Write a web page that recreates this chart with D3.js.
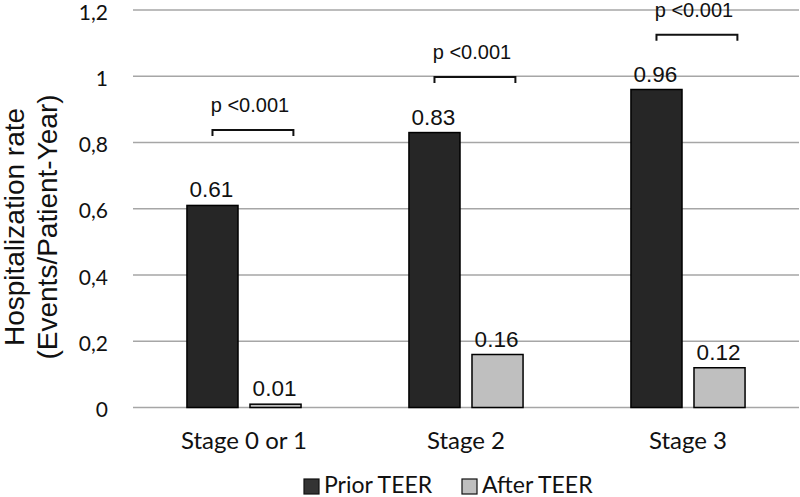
<!DOCTYPE html>
<html>
<head>
<meta charset="utf-8">
<script src="https://cdn.jsdelivr.net/npm/d3@7"></script>
<style>
  html, body { margin: 0; padding: 0; background: #fff; }
  svg { display: block; }
</style>
</head>
<body>
<svg id="chart" width="800" height="497"></svg>
<script>
// ---------------- data ----------------
const categories = ["Stage 0 or 1", "Stage 2", "Stage 3"];
const seriesNames = ["Prior TEER", "After TEER"];
const priorTEER = [0.61, 0.83, 0.96];
const afterTEER = [0.01, 0.16, 0.12];
const priorLabels = ["0.61", "0.83", "0.96"];
const afterLabels = ["0.01", "0.16", "0.12"];
const pValueLabels = ["p <0.001", "p <0.001", "p <0.001"];
const pBracketLevel = [0.838, 0.998, 1.125];
const yTicks = [0, 0.2, 0.4, 0.6, 0.8, 1, 1.2];
const yTickLabels = ["0", "0,2", "0,4", "0,6", "0,8", "1", "1,2"];
const yTitle = ["Hospitalization rate", "(Events/Patient-Year)"];

// ---------------- layout ----------------
const W = 800, H = 497;
const plot = { left: 133, right: 799, top: 10, bottom: 407.5 };
const colors = { "Prior TEER": "#262626", "After TEER": "#bfbfbf" };

const svg = d3.select("#chart");

const y = d3.scaleLinear().domain([0, 1.2]).range([plot.bottom, plot.top]);
const x0 = d3.scaleBand().domain(categories).range([plot.left, plot.right])
  .paddingInner(0.486).paddingOuter(0.243);
const x1 = d3.scaleBand().domain(seriesNames).range([0, x0.bandwidth()]).paddingInner(0.19);

// gridlines
svg.append("g").selectAll("line").data(yTicks).join("line")
  .attr("x1", plot.left).attr("x2", plot.right)
  .attr("y1", d => y(d)).attr("y2", d => y(d))
  .attr("stroke", "#a6a6a6").attr("stroke-width", 1.5);

// y tick labels
svg.append("g").selectAll("text").data(yTicks).join("text")
  .attr("x", 108).attr("y", d => y(d) + 1)
  .attr("text-anchor", "end").attr("dominant-baseline", "central")
  .attr("font-family", "Lato, 'Open Sans', sans-serif")
  .attr("font-size", 21).attr("fill", "#111")
  .text((d, i) => yTickLabels[i]);

// y title
const yt = svg.append("text")
  .attr("transform", "translate(0,227) rotate(-90)")
  .attr("text-anchor", "middle")
  .attr("font-family", "'Liberation Sans', Arial, sans-serif")
  .attr("font-size", 28).attr("fill", "#111");
yt.append("tspan").attr("x", 0).attr("y", 24).text(yTitle[0]);
yt.append("tspan").attr("x", 0).attr("y", 57).text(yTitle[1]);

// bars
const rows = categories.map((c, i) => ({
  cat: c,
  vals: [
    { s: seriesNames[0], v: priorTEER[i], label: priorLabels[i] },
    { s: seriesNames[1], v: afterTEER[i], label: afterLabels[i] }
  ]
}));

const groups = svg.append("g").selectAll("g").data(rows).join("g")
  .attr("transform", d => `translate(${x0(d.cat)},0)`);

groups.selectAll("rect").data(d => d.vals).join("rect")
  .attr("x", d => x1(d.s))
  .attr("y", d => y(d.v))
  .attr("width", x1.bandwidth())
  .attr("height", d => y(0) - y(d.v))
  .attr("fill", d => colors[d.s])
  .attr("stroke", "#000").attr("stroke-width", 1.5);

groups.selectAll("text.val").data(d => d.vals).join("text")
  .attr("class", "val")
  .attr("x", d => x1(d.s) + x1.bandwidth() / 2 - 1)
  .attr("y", d => y(d.v) - 8)
  .attr("text-anchor", "middle")
  .attr("font-family", "'Liberation Sans', Arial, sans-serif")
  .attr("font-size", 22.5).attr("fill", "#111")
  .text(d => d.label);

// p-value brackets
categories.forEach((c, i) => {
  const xs = x0(c) + x1(seriesNames[0]) + x1.bandwidth() * 0.5;
  const xe = x0(c) + x1(seriesNames[1]) + x1.bandwidth() * 0.85;
  const yb = y(pBracketLevel[i]);
  svg.append("path")
    .attr("d", `M${xs},${yb + 6}V${yb}H${xe}V${yb + 6}`)
    .attr("fill", "none").attr("stroke", "#111").attr("stroke-width", 2);
  svg.append("text")
    .attr("x", (xs + xe) / 2 - 3).attr("y", yb - 18)
    .attr("text-anchor", "middle")
    .attr("font-family", "'Liberation Sans', Arial, sans-serif")
    .attr("font-size", 20).attr("fill", "#111")
    .text(pValueLabels[i]);
});

// x category labels
svg.append("g").selectAll("text").data(categories).join("text")
  .attr("x", d => x0(d) + x0.bandwidth() / 2)
  .attr("y", 449)
  .attr("text-anchor", "middle")
  .attr("font-family", "Lato, 'Open Sans', sans-serif")
  .attr("font-size", 24).attr("fill", "#111")
  .text(d => d);

// legend
const legend = svg.append("g");
const legendX = [304, 462];
seriesNames.forEach((s, i) => {
  const g = legend.append("g").attr("transform", `translate(${legendX[i]},0)`);
  g.append("rect").attr("x", 0).attr("y", 479).attr("width", 15).attr("height", 15)
    .attr("fill", i === 0 ? "#333" : "#bfbfbf").attr("stroke", "#111").attr("stroke-width", 1.2);
  g.append("text").attr("x", 20).attr("y", 493)
    .attr("font-family", "Lato, 'Open Sans', sans-serif")
    .attr("font-size", 23).attr("fill", "#111")
    .text(s);
});
</script>
</body>
</html>
